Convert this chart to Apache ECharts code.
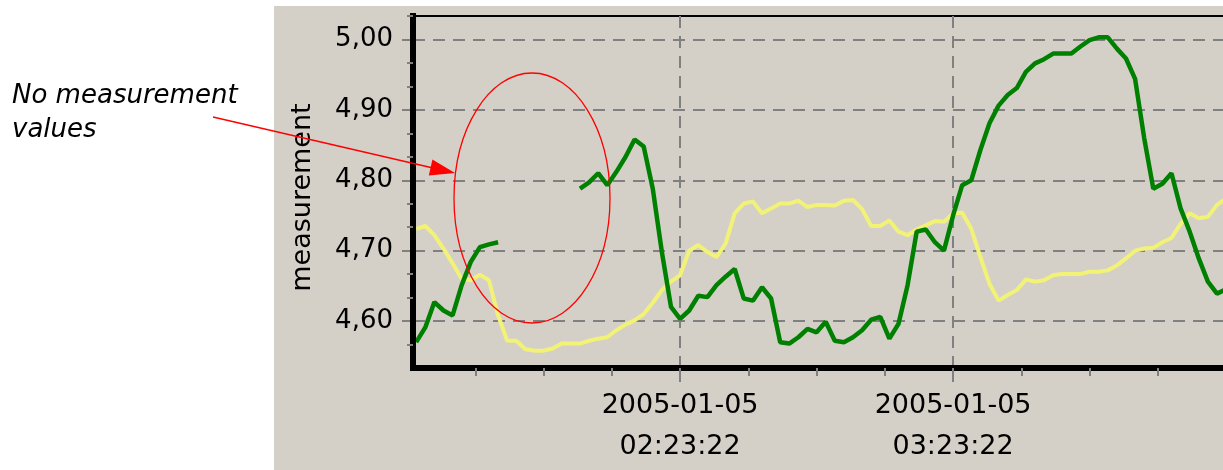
<!DOCTYPE html>
<html>
<head>
<meta charset="utf-8">
<script src="https://cdn.jsdelivr.net/npm/echarts@6/dist/echarts.min.js"></script>
<style>
html,body{margin:0;padding:0;background:#fff;}
#chart{width:1223px;height:470px;}
</style>
</head>
<body>
<div id="chart"></div>
<script>
// x values: minutes after 2005-01-05 00:23:22
const dateLabel = '2005-01-05';
const baseSeconds = 0 * 3600 + 23 * 60 + 22;
const timesMin = [62,64,66,68,70,72,74,76,78,80,82,84,86,88,90,92,94,96,98,100,
  102,104,106,108,110,112,114,116,118,120,122,124,126,128,130,132,134,136,138,140,
  142,144,146,148,150,152,154,156,158,160,162,164,166,168,170,172,174,176,178,180,
  182,184,186,188,190,192,194,196,198,200,202,204,206,208,210,212,214,216,218,220,
  222,224,226,228,230,232,234,236,238,240];
const greenValues = [4.570,4.591,4.627,4.615,4.608,4.651,4.684,4.705,4.709,4.712,
  null,null,null,null,null,null,null,null,
  4.788,4.797,4.810,4.793,4.812,4.833,4.858,4.848,4.788,4.698,4.620,4.603,
  4.615,4.636,4.634,4.651,4.663,4.674,4.632,4.629,4.648,4.632,
  4.570,4.568,4.577,4.589,4.584,4.599,4.572,4.570,4.577,4.587,
  4.602,4.606,4.575,4.596,4.651,4.727,4.730,4.712,4.700,4.750,
  4.793,4.800,4.843,4.881,4.906,4.921,4.931,4.954,4.966,4.972,
  4.980,4.980,4.980,4.990,4.999,5.003,5.003,4.987,4.973,4.944,
  4.860,4.788,4.795,4.810,4.760,4.727,4.689,4.656,4.639,4.645];
const yellowValues = [4.731,4.735,4.722,4.703,4.682,4.660,4.658,4.666,4.658,4.608,
  4.572,4.572,4.560,4.558,4.558,4.561,4.568,4.568,4.568,4.572,
  4.575,4.577,4.587,4.595,4.601,4.610,4.626,4.644,4.656,4.665,
  4.700,4.708,4.698,4.691,4.710,4.753,4.767,4.770,4.753,4.760,
  4.767,4.767,4.771,4.762,4.765,4.765,4.764,4.771,4.772,4.759,
  4.735,4.735,4.743,4.727,4.722,4.730,4.736,4.742,4.741,4.753,
  4.754,4.731,4.691,4.653,4.629,4.637,4.644,4.659,4.656,4.658,
  4.665,4.667,4.667,4.667,4.670,4.670,4.672,4.679,4.689,4.700,
  4.703,4.704,4.712,4.718,4.738,4.753,4.746,4.748,4.765,4.774];
const xMajorTicks = [120, 180];
const xMinorTicks = [75,90,105,120,135,150,165,180,195,210,225,240];
const yMajorTicks = [4.6, 4.7, 4.8, 4.9, 5.0];
const yMinorTicks = [4.566667,4.633333,4.666667,4.733333,4.766667,4.833333,4.866667,4.933333,4.966667,5.033333];
const yAxisName = 'measurement';
const annotationText = 'No measurement\nvalues';

function clockLabel(t) {
  let s = Math.round(baseSeconds + t * 60);
  const hh = Math.floor(s / 3600); s -= hh * 3600;
  const mm = Math.floor(s / 60); const ss = s - mm * 60;
  const p = n => String(n).padStart(2, '0');
  return dateLabel + '\n' + p(hh) + ':' + p(mm) + ':' + p(ss);
}

const greenData = timesMin.map((t, i) => [t, greenValues[i] == null ? '-' : greenValues[i]]);
const yellowData = timesMin.map((t, i) => [t, yellowValues[i]]);

const X_MIN = 61.3, X_MAX = 241.3, Y_MIN = 4.533333, Y_MAX = 5.033333;

const chart = echarts.init(document.getElementById('chart'), null, {renderer: 'canvas'});
chart.setOption({
  animation: false,
  graphic: {
    elements: [
      {type: 'rect', z: -100, silent: true, shape: {x: 274, y: 6, width: 960, height: 470}, style: {fill: '#d4d0c8'}},
      {type: 'text', z: 100, x: 12, y: 79, style: {text: annotationText, font: 'italic 26px "DejaVu Sans", sans-serif', fill: '#000', lineHeight: 34, verticalAlign: 'top'}},
      {type: 'line', z: 100, shape: {x1: 213, y1: 117, x2: 433, y2: 168}, style: {stroke: '#ff0000', lineWidth: 1.3}},
      {type: 'polygon', z: 100, shape: {points: [[455, 173], [428.8, 175.6], [432.4, 159.6]]}, style: {fill: '#ff0000'}},
      {type: 'ellipse', z: 100, shape: {cx: 532, cy: 198, rx: 78, ry: 125}, style: {fill: 'none', stroke: '#ff0000', lineWidth: 1.3}}
    ]
  },
  grid: {left: 413, top: 16, width: 819, bottom: 102, containLabel: false, outerBoundsMode: 'none',
    show: true, borderColor: '#000', borderWidth: 2, backgroundColor: 'transparent'},
  xAxis: [
    {
      type: 'value', min: X_MIN, max: X_MAX, interval: 15, position: 'bottom', z: 5,
      axisLine: {show: true, onZero: false, lineStyle: {color: '#000', width: 6, cap: 'square'}},
      axisTick: {show: true, length: 8, customValues: xMinorTicks, lineStyle: {color: '#808080', width: 2}},
      axisLabel: {show: false},
      splitLine: {show: false}
    },
    {
      type: 'value', min: X_MIN, max: X_MAX, interval: 60, position: 'bottom',
      axisLine: {show: false, onZero: false},
      axisTick: {show: true, length: 14, customValues: xMajorTicks, lineStyle: {color: '#808080', width: 2}},
      axisLabel: {show: true, customValues: xMajorTicks,
        formatter: v => clockLabel(v),
        margin: 17, fontFamily: 'DejaVu Sans', fontSize: 27, lineHeight: 41, color: '#000'},
      splitLine: {show: true, lineStyle: {color: '#808080', width: 2, type: [12, 8]}}
    }
  ],
  yAxis: [
    {
      type: 'value', min: Y_MIN, max: Y_MAX, interval: 0.1, position: 'left', z: 5,
      name: yAxisName, nameLocation: 'middle', nameGap: 97,
      nameTextStyle: {fontFamily: 'DejaVu Sans', fontSize: 27, color: '#000', padding: [0, 11, 0, 0]},
      axisLine: {show: true, onZero: false, lineStyle: {color: '#000', width: 6, cap: 'square'}},
      axisTick: {show: true, length: 6, customValues: yMinorTicks, lineStyle: {color: '#808080', width: 2}},
      axisLabel: {show: false},
      splitLine: {show: false}
    },
    {
      type: 'value', min: Y_MIN, max: Y_MAX, interval: 0.1, position: 'left',
      axisLine: {show: false, onZero: false},
      axisTick: {show: true, length: 11, customValues: yMajorTicks, lineStyle: {color: '#808080', width: 2}},
      axisLabel: {show: true, customValues: yMajorTicks,
        formatter: v => v.toFixed(2).replace('.', ','),
        margin: 20, fontFamily: 'DejaVu Sans', fontSize: 26, color: '#000'},
      splitLine: {show: true, lineStyle: {color: '#808080', width: 2, type: [12, 8]}}
    }
  ],
  series: [
    {type: 'line', name: 'reference', xAxisIndex: 0, yAxisIndex: 0, data: yellowData, showSymbol: false, symbol: 'none',
      lineStyle: {color: '#f2f277', width: 4}, z: 3},
    {type: 'line', name: 'measurement', xAxisIndex: 0, yAxisIndex: 0, data: greenData, showSymbol: false, symbol: 'none',
      connectNulls: false, lineStyle: {color: '#008000', width: 4.5}, z: 4}
  ]
});
</script>
</body>
</html>
